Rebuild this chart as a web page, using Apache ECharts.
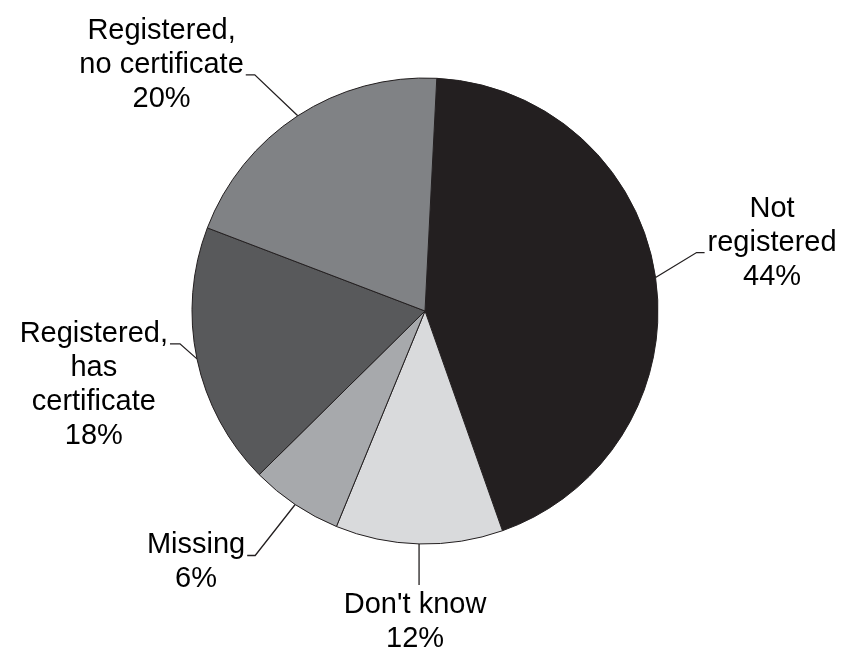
<!DOCTYPE html>
<html>
<head>
<meta charset="utf-8">
<script src="https://cdn.jsdelivr.net/npm/echarts@6/dist/echarts.min.js"></script>
<style>
html,body{margin:0;padding:0;background:#ffffff;}
#chart{width:846px;height:648px;}
</style>
</head>
<body>
<div id="chart"></div>
<script>
// ---- data ----
const categories = ['Not\nregistered', "Don't know", 'Missing', 'Registered,\nhas\ncertificate', 'Registered,\nno certificate'];
const values = [43.8, 11.6, 6.4, 18.2, 20.0];
const colors = ['#231f20', '#d9dadc', '#a7a9ac', '#58595b', '#808285'];

// ---- leader line / label styling (offsets from the slice edge point the library computes) ----
const LH = 34;
const FS = 29;
const leaderStyle = [
  { bend: [41, -25], run: 8,  mode: 'side', row: 1 },
  { bend: [0, 41],   run: 0,  mode: 'below', row: 0 },
  { bend: [-40, 51], run: -8, mode: 'side', row: 0 },
  { bend: [-17, -15], run: -10, mode: 'side', row: 0 },
  { bend: [-43, -41], run: -9, mode: 'side', row: 1 }
];

const chart = echarts.init(document.getElementById('chart'), null, { renderer: 'canvas' });

const option = {
  backgroundColor: '#ffffff',
  animation: false,
  series: [{
    type: 'pie',
    center: [425, 311],
    radius: 233,
    startAngle: 87.1,
    clockwise: true,
    avoidLabelOverlap: false,
    itemStyle: { borderColor: '#231f20', borderWidth: 1 },
    emphasis: { disabled: true },
    label: {
      show: true,
      position: 'outside',
      color: '#000000',
      fontFamily: 'Liberation Sans, Arial, sans-serif',
      fontSize: FS,
      lineHeight: LH,
      formatter: function (p) {
        const lines = p.name.split('\n').concat([Math.round(p.percent) + '%']);
        return lines.map(function (l) { return '{t|' + l + '}'; }).join('\n');
      },
      rich: {
        t: {
          align: 'center',
          color: '#000000',
          fontFamily: 'Liberation Sans, Arial, sans-serif',
          fontSize: FS,
          lineHeight: LH
        }
      }
    },
    labelLine: {
      show: true,
      length: 20,
      length2: 8,
      lineStyle: { color: '#231f20', width: 1.3 }
    },
    labelLayout: function (params) {
      const s = leaderStyle[params.dataIndex];
      const pts = params.labelLinePoints;
      if (!pts || !s) return {};
      const edge = pts[0];
      const bend = [edge[0] + s.bend[0], edge[1] + s.bend[1]];
      const end = [bend[0] + s.run, bend[1]];
      const nRows = categories[params.dataIndex].split('\n').length + 1;
      if (s.mode === 'below') {
        return {
          x: end[0] - 4, y: end[1] + 3,
          align: 'center', verticalAlign: 'top',
          labelLinePoints: [edge, bend, end]
        };
      }
      const right = s.run > 0;
      return {
        x: end[0] + (right ? 3 : -2),
        y: end[1] - 10 + ((nRows - 1) / 2 - s.row) * LH,
        align: right ? 'left' : 'right',
        verticalAlign: 'middle',
        labelLinePoints: [edge, bend, end]
      };
    },
    data: categories.map(function (c, i) {
      return { name: c, value: values[i], itemStyle: { color: colors[i] } };
    })
  }]
};

chart.setOption(option);
</script>
</body>
</html>
